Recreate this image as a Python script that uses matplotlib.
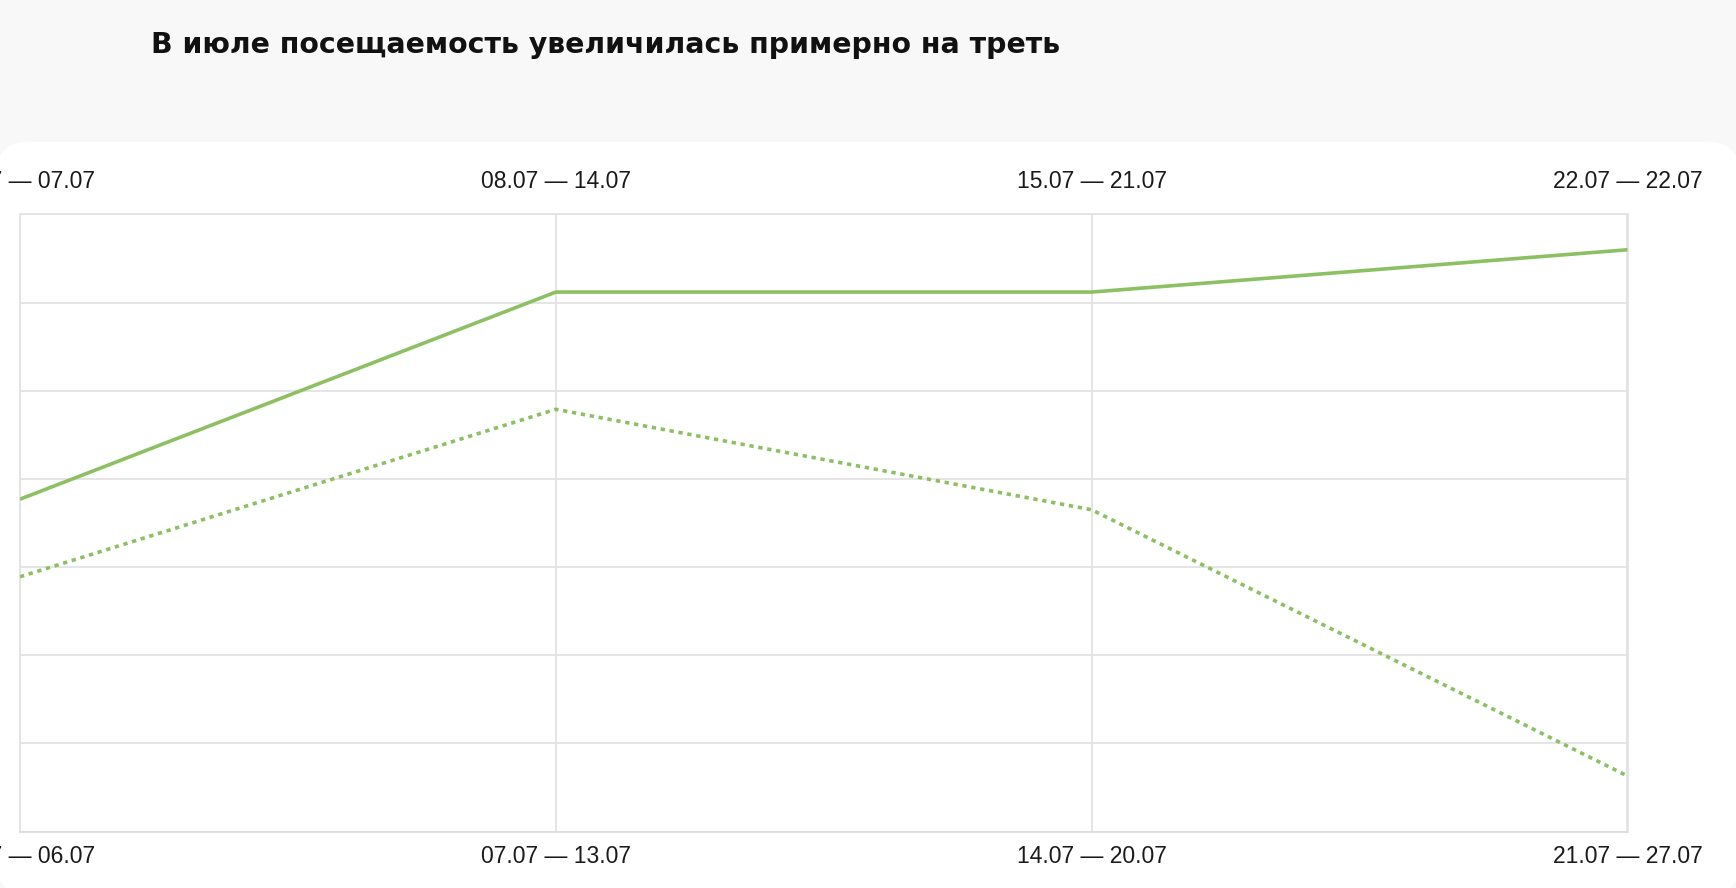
import matplotlib.pyplot as plt
import matplotlib.patches as mpatches
from matplotlib.transforms import IdentityTransform

# weekly attendance, in gridline units (the chart has no value axis)
weeks = [0, 1, 2, 3]
this_period = [3.77, 6.12, 6.12, 6.60]
prev_period = [2.89, 4.79, 3.65, 0.63]

top_labels = ["01.07 — 07.07", "08.07 — 14.07", "15.07 — 21.07", "22.07 — 22.07"]
bottom_labels = ["01.07 — 06.07", "07.07 — 13.07", "14.07 — 20.07", "21.07 — 27.07"]
title = "В июле посещаемость увеличилась примерно на треть"

green = "#8cc063"
grid_col = "#e3e3e3"

W, H, DPI = 1736, 888, 100
fig = plt.figure(figsize=(W / DPI, H / DPI), dpi=DPI, facecolor="#f8f8f8")

# white card with rounded corners (pixel coords)
card = mpatches.FancyBboxPatch((-4, -6), W + 8, H - 142 + 6,
                               boxstyle="round,pad=0,rounding_size=32",
                               transform=IdentityTransform(),
                               facecolor="white", edgecolor="none", zorder=0)
fig.add_artist(card)

fig.text(150.6 / W, 1 - 45 / H, title, ha="left", va="center",
         fontsize=20.4, fontweight="bold", family=["DejaVu Sans"],
         color="#111111")

ax = fig.add_axes([20 / W, 1 - 831.5 / H, (1627.5 - 20) / W, (831.5 - 214.5) / H])
ax.set_facecolor("none")

ax.plot(weeks, this_period, color=green, lw=2.6, solid_capstyle="butt", zorder=3)
ax.plot(weeks, prev_period, color=green, lw=2.6, linestyle=(0, (1.2, 1.3)),
        dash_capstyle="butt", zorder=3)

ax.set_xlim(0, 3)
ax.set_ylim(0, 7)
ax.set_yticks(range(8))
ax.set_yticklabels([])
ax.set_xticks(weeks)
ax.set_xticklabels(bottom_labels, family=["Liberation Sans", "DejaVu Sans"],
                   fontsize=16.5, color="#1a1a1a")
ax.tick_params(axis="both", length=0)
ax.tick_params(axis="x", pad=9.9)
ax.grid(True, color=grid_col, lw=1.3)
ax.set_axisbelow(True)
for s in ax.spines.values():
    s.set_color(grid_col)
    s.set_linewidth(1.3)
ax.spines["bottom"].set_color("#dcdcdc")

top = ax.secondary_xaxis("top")
top.set_xticks(weeks)
top.set_xticklabels(top_labels, family=["Liberation Sans", "DejaVu Sans"],
                    fontsize=16.5, color="#1a1a1a")
top.tick_params(length=0, pad=15.6)
top.spines["top"].set_visible(False)

fig.savefig("out.png", dpi=DPI, facecolor=fig.get_facecolor())
